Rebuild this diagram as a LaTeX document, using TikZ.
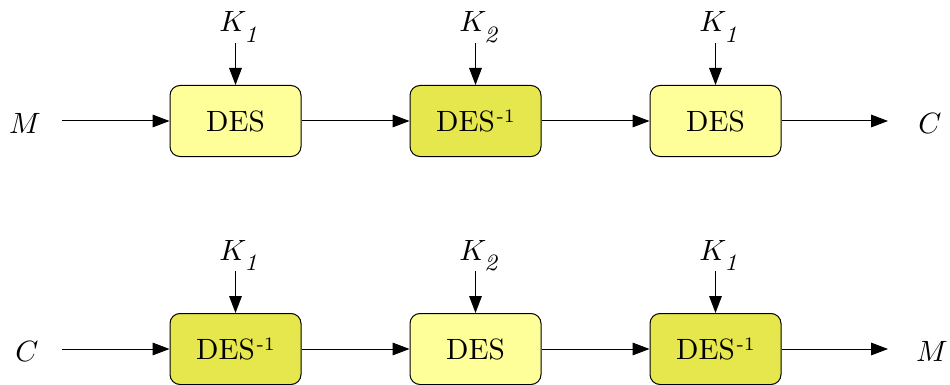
\documentclass[tikz,border=0pt]{standalone}
\usepackage{graphicx}
\usetikzlibrary{arrows.meta}
\definecolor{lightY}{RGB}{255,255,153}
\definecolor{darkY}{RGB}{230,230,77}
\newcommand{\bigtxt}[1]{\scalebox{2.2}{\fontsize{10}{12}\selectfont #1}}
\newcommand{\kk}[1]{\bigtxt{$K_{\raisebox{-2.2pt}{\fontsize{8}{9}\selectfont\itshape #1}}$}}
\newcommand{\desinv}{\bigtxt{DES\kern0.6pt\raisebox{3.4pt}{\fontsize{6.5}{7}\selectfont -1}}}
\begin{document}
\begin{tikzpicture}[x=0.75pt,y=-0.75pt,
  box/.style={draw, line width=0.75pt, rounded corners=7.5pt, minimum width=98.25pt, minimum height=53.25pt, inner sep=0pt},
  enc/.style={box, fill=lightY},
  dec/.style={box, fill=darkY},
  arr/.style={line width=0.75pt, -{Triangle[length=12.75pt,width=9.5pt]}},
  lab/.style={inner sep=0pt, anchor=base}]
\useasboundingbox (0,0) rectangle (950,385);
% top row
\node[enc] (a1) at (235.5,121) {\bigtxt{DES}};
\node[dec] (a2) at (475.5,121) {\desinv};
\node[enc] (a3) at (715.5,121) {\bigtxt{DES}};
\node[lab] (am) at (25,133.5) {\bigtxt{$M$}};
\node[lab] (ac) at (930,133.5) {\bigtxt{$C$}};
\node[lab] (ak1) at (239,32) {\kk{1}};
\node[lab] (ak2) at (479,32) {\kk{2}};
\node[lab] (ak3) at (719,32) {\kk{1}};
\coordinate (ams) at (62,121);
\coordinate (ace) at (888,121);
\coordinate (ak1s) at (235.5,43);
\coordinate (ak2s) at (475.5,43);
\coordinate (ak3s) at (715.5,43);
\draw[arr] (ams) -- (a1);
\draw[arr] (a1) -- (a2);
\draw[arr] (a2) -- (a3);
\draw[arr] (a3) -- (ace);
\draw[arr] (ak1s) -- (a1);
\draw[arr] (ak2s) -- (a2);
\draw[arr] (ak3s) -- (a3);
% bottom row
\node[dec] (b1) at (235.5,349) {\desinv};
\node[enc] (b2) at (475.5,349) {\bigtxt{DES}};
\node[dec] (b3) at (715.5,349) {\desinv};
\node[lab] (bc) at (27,361.5) {\bigtxt{$C$}};
\node[lab] (bm) at (932,361.5) {\bigtxt{$M$}};
\node[lab] (bk1) at (239,260) {\kk{1}};
\node[lab] (bk2) at (479,260) {\kk{2}};
\node[lab] (bk3) at (719,260) {\kk{1}};
\coordinate (bcs) at (62,349);
\coordinate (bme) at (888,349);
\coordinate (bk1s) at (235.5,271);
\coordinate (bk2s) at (475.5,271);
\coordinate (bk3s) at (715.5,271);
\draw[arr] (bcs) -- (b1);
\draw[arr] (b1) -- (b2);
\draw[arr] (b2) -- (b3);
\draw[arr] (b3) -- (bme);
\draw[arr] (bk1s) -- (b1);
\draw[arr] (bk2s) -- (b2);
\draw[arr] (bk3s) -- (b3);
\end{tikzpicture}
\end{document}
